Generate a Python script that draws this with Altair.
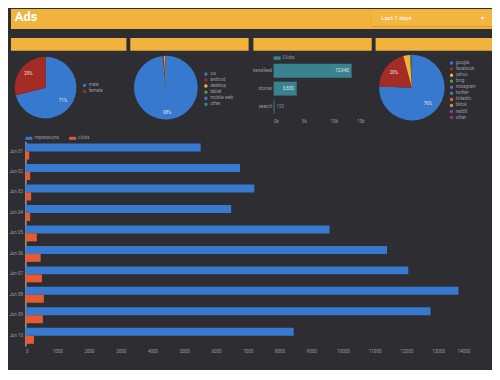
import altair as alt
import pandas as pd

# ---------------- data ----------------
title_text = "Ads"
range_text = "Last 7 days"

gender = ["male", "female"]
gender_share = [71, 29]

devices = ["ios", "android", "desktop", "tablet", "mobile web", "other"]
device_share = [98.4, 0.6, 0.6, 0.2, 0.1, 0.1]

placements = ["newsfeed", "stories", "search"]
placement_clicks = [12940, 3830, 150]
placement_series = "Clicks"

sources = ["google", "facebook", "yahoo", "bing", "instagram",
           "twitter", "linkedin", "tiktok", "reddit", "other"]
source_share = [75.5, 20.3, 3.3, 0.4, 0.1, 0.1, 0.1, 0.1, 0.05, 0.05]

days = ["Jun 01", "Jun 02", "Jun 03", "Jun 04", "Jun 05",
        "Jun 06", "Jun 07", "Jun 08", "Jun 09", "Jun 10"]
impressions = [5520, 6760, 7210, 6480, 9580, 11390, 12060, 13640, 12760, 8450]
clicks = [120, 150, 180, 150, 360, 480, 520, 580, 550, 270]
series_names = ["impressions", "clicks"]
big_ticks = [0, 1000, 2000, 3000, 4000, 5000, 6000, 7000,
             8000, 9000, 10000, 11000, 12000, 13000, 14000]
small_ticks = [0, 5000, 10000, 15000]

# ---------------- styles ----------------
BG = "#2E2D32"
YEL = "#F2B33D"
YEL_DARK = "#D89B2E"
BLUE = "#3679CF"
ORANGE = "#E35B33"
RED = "#A52B27"
TEAL = "#3A828F"
LBL = "#9C9CA2"
PIE_COLORS = [BLUE, RED, "#F2B33D", "#4C9F4A", "#6265C4", "#2E8A96",
              "#E9622E", "#A7A63A", "#8B3AC0", "#B02A5B"]
FS = 4.5

W, HH = 484, 362
SX = W / 500.0


def X(v):
    return round(v * SX, 2)


def Y(v):
    return v - 5


one = pd.DataFrame({"k": [0]})


def box(x0, x1, y0, y1, color):
    return alt.Chart(one).mark_rect(color=color).encode(
        x=alt.value(x0), x2=alt.value(x1), y=alt.value(y0), y2=alt.value(y1))


# ---------------- header ----------------
header = [
    box(0, W, 0, Y(25), YEL),
    box(X(375), W, Y(6), Y(23), YEL_DARK),
    box(X(375), W, Y(6), Y(22), "#F3B641"),
    alt.Chart(one).mark_text(text=title_text, color="white", fontSize=13,
                             fontWeight="bold", align="left", baseline="alphabetic",
                             font="Roboto").encode(x=alt.value(X(4)), y=alt.value(Y(16.5))),
    alt.Chart(one).mark_text(text=range_text, color="white", fontSize=6,
                             align="left", baseline="middle",
                             font="Roboto").encode(x=alt.value(X(385)), y=alt.value(Y(14))),
    alt.Chart(one).mark_text(text="▾", color="white", fontSize=6,
                             align="center", baseline="middle").encode(
        x=alt.value(X(490)), y=alt.value(Y(14))),
    box(0, X(120), Y(34), Y(47), YEL),
    box(X(124), X(247), Y(34), Y(47), YEL),
    box(X(252), X(375), Y(34), Y(47), YEL),
    box(X(379), W, Y(34), Y(47), YEL),
]


# ---------------- pies ----------------
def pie(cats, vals, colors, cx, cy, r, lab_r, lx, ly, min_label):
    labels = [f"{round(v)}%" if v >= min_label else "" for v in vals]
    df = pd.DataFrame({"cat": cats, "val": vals, "idx": list(range(len(cats))),
                       "lbl": labels})
    base = alt.Chart(df).encode(
        theta=alt.Theta("val:Q", stack=True),
        order=alt.Order("idx:Q"),
        x=alt.value(cx), y=alt.value(cy),
    )
    arc = base.mark_arc(outerRadius=r).encode(
        color=alt.Color("cat:N", scale=alt.Scale(domain=cats, range=colors),
                        legend=alt.Legend(orient="none", legendX=lx, legendY=ly,
                                          title=None, labelFontSize=FS, labelColor=LBL,
                                          symbolSize=12, symbolType="circle",
                                          symbolStrokeWidth=0, rowPadding=1.1,
                                          padding=0, labelOffset=2)))
    txt = base.mark_text(radius=lab_r, fontSize=FS, color="#E6E6E6").encode(
        text="lbl:N", detail="cat:N")
    return alt.layer(arc, txt)


pie1 = pie(gender, gender_share, [BLUE, RED], X(36), Y(84), 31, 22,
           X(74.2), Y(79.5), 5)
pie2 = pie(devices, device_share, PIE_COLORS[:6], X(161), Y(84), 32, 26,
           X(200.3), Y(68), 5)
pie3 = pie(sources, source_share, PIE_COLORS, X(416.7), Y(84), 33, 23,
           X(455.6), Y(57), 5)

# ---------------- small bar chart ----------------
pl_df = pd.DataFrame({"placement": placements, "clicks": placement_clicks,
                      "series": [placement_series] * len(placements)})
pl_df["lbl"] = pl_df["clicks"].map(lambda v: f"{v:,}")

pl_x = alt.X("clicks:Q",
             scale=alt.Scale(domain=[0, 15000], range=[X(273), X(367)], nice=False),
             axis=alt.Axis(orient="bottom", offset=-(HH - Y(113)), values=small_ticks,
                           format="~s", domain=False, ticks=False, grid=False,
                           labelFontSize=FS, labelColor=LBL, labelPadding=2, title=None))
pl_y = alt.Y("placement:N", sort=placements,
             scale=alt.Scale(range=[Y(56), Y(114)], paddingInner=0.222, paddingOuter=0.222),
             axis=alt.Axis(orient="left", offset=-X(273), domain=False, ticks=False,
                           labelFontSize=FS, labelColor=LBL, labelPadding=2, title=None))
pl_base = alt.Chart(pl_df).encode(x=pl_x, y=pl_y)
pl_bars = pl_base.mark_bar().encode(
    color=alt.Color("series:N", scale=alt.Scale(domain=[placement_series], range=[TEAL]),
                    legend=alt.Legend(orient="none", legendX=X(273), legendY=Y(50.8),
                                      title=None, labelFontSize=FS, labelColor=LBL,
                                      symbolType="M-1,-0.5H1V0.5H-1Z", symbolSize=49,
                                      symbolStrokeWidth=0, padding=0, labelOffset=2)))
pl_in = pl_base.mark_text(align="right", baseline="middle", dx=-3, fontSize=FS,
                          color="#E6E6E6").encode(text="lbl:N").transform_filter(
    "datum.clicks > 1000")
pl_out = pl_base.mark_text(align="left", baseline="middle", dx=2, fontSize=FS,
                           color="#5B9AA5").encode(text="lbl:N").transform_filter(
    "datum.clicks <= 1000")
small_bar = alt.layer(pl_bars, pl_in, pl_out)

# ---------------- big grouped bar chart ----------------
big_df = pd.DataFrame({
    "day": days * 2,
    "series": [series_names[0]] * len(days) + [series_names[1]] * len(days),
    "value": impressions + clicks,
})
big = alt.Chart(big_df).mark_bar().encode(
    x=alt.X("value:Q",
            scale=alt.Scale(domain=[0, 14000], range=[X(15), X(477)], nice=False),
            axis=alt.Axis(orient="bottom", offset=-(HH - Y(344)), values=big_ticks,
                          format="d", domain=False, ticks=False, grid=False,
                          labelFontSize=FS, labelColor=LBL, labelPadding=3, title=None)),
    y=alt.Y("day:N", sort=days,
            scale=alt.Scale(range=[Y(138), Y(344)], paddingInner=0.22, paddingOuter=0.11),
            axis=alt.Axis(orient="left", offset=-X(15), domain=True, domainColor="#CFCFD2",
                          domainWidth=1, ticks=False, labelFontSize=FS, labelColor=LBL,
                          labelPadding=3, title=None)),
    yOffset=alt.YOffset("series:N", sort=series_names,
                        scale=alt.Scale(paddingInner=0, paddingOuter=0)),
    color=alt.Color("series:N", scale=alt.Scale(domain=series_names, range=[BLUE, ORANGE]),
                    legend=alt.Legend(orient="none", direction="horizontal",
                                      legendX=X(15), legendY=Y(131), title=None,
                                      labelFontSize=FS, labelColor=LBL,
                                      symbolType="M-1,-0.43H1V0.43H-1Z", symbolSize=49,
                                      symbolStrokeWidth=0, padding=0, labelOffset=2,
                                      columnPadding=10)),
)

chart = alt.layer(*header, pie1, pie2, pie3, small_bar, big).resolve_scale(
    x="independent", y="independent", color="independent", theta="independent",
    yOffset="independent",
).properties(
    width=W, height=HH, padding=0, background=BG,
).configure(font="Roboto").configure_view(strokeWidth=0)

chart.save("out.html", embed_options={"renderer": "svg", "actions": False})
